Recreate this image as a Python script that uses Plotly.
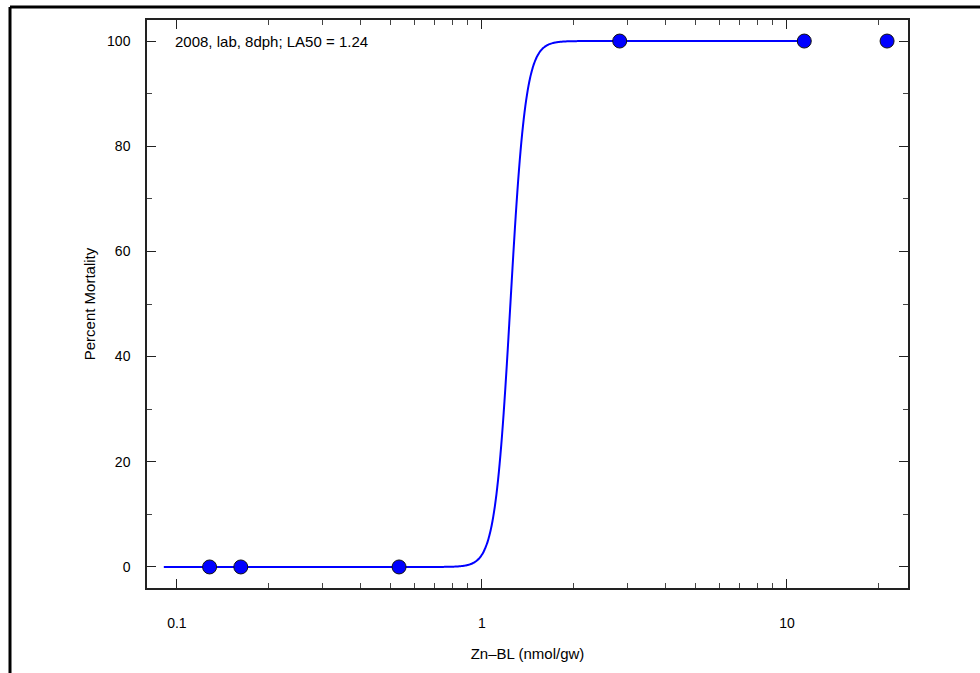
import numpy as np
import plotly.graph_objects as go

# Observed data
conc = [0.128, 0.162, 0.535, 2.83, 11.4, 21.3]
mortality = [0, 0, 0, 100, 100, 100]

# Fitted logistic model parameters (log10 scale)
LA50 = 1.24
slope_scale = 0.025
curve_min = 0.0906
curve_max = 11.4

x_major = [0.1, 1, 10]
x_major_text = ["0.1", "1", "10"]
x_minor = [0.2, 0.3, 0.4, 0.5, 0.6, 0.7, 0.8, 0.9,
           2, 3, 4, 5, 6, 7, 8, 9, 20]
y_major = [0, 20, 40, 60, 80, 100]
y_minor = [10, 30, 50, 70, 90]

title_text = "2008, lab, 8dph; LA50 = 1.24"
x_title = "Zn\u2013BL (nmol/gw)"
y_title = "Percent Mortality"

lx = np.linspace(np.log10(curve_min), np.log10(curve_max), 800)
cx = 10 ** lx
cy = 100.0 / (1.0 + np.exp(-(lx - np.log10(LA50)) / slope_scale))

font = "Liberation Sans, Arial, sans-serif"

fig = go.Figure()
fig.add_trace(go.Scatter(x=cx, y=cy, mode="lines",
                         line=dict(color="#0000FF", width=2, shape="spline"),
                         hoverinfo="skip", showlegend=False))
fig.add_trace(go.Scatter(x=conc, y=mortality, mode="markers",
                         marker=dict(color="#0000FF", size=14,
                                     line=dict(color="#111111", width=1)),
                         showlegend=False))

L, R, T, B = 147, 72, 20, 85
W, H = 980, 673
pw, ph = W - L - R, H - T - B

fig.update_layout(
    width=W, height=H,
    margin=dict(l=L, r=R, t=T, b=B),
    paper_bgcolor="white", plot_bgcolor="white",
    font=dict(family=font, size=14, color="black"),
    showlegend=False,
)
fig.update_xaxes(
    type="log", range=[-1.098, 1.397],
    tickmode="array", tickvals=x_major, ticktext=x_major_text,
    ticks="inside", ticklen=9, tickwidth=1.3, tickcolor="#222",
    ticklabelstandoff=21,
    minor=dict(tickvals=x_minor, ticks="inside", ticklen=5, tickwidth=1, tickcolor="#444", showgrid=False),
    showline=True, linecolor="#222", linewidth=1.5, mirror="allticks",
    showgrid=False, zeroline=False,
    title=dict(text=x_title, font=dict(size=15), standoff=19),
    tickfont=dict(size=14),
)
fig.update_yaxes(
    range=[-4, 104],
    tickmode="array", tickvals=y_major,
    ticks="inside", ticklen=9, tickwidth=1.3, tickcolor="#222",
    ticklabelstandoff=12,
    minor=dict(tickvals=y_minor, ticks="inside", ticklen=5, tickwidth=1, tickcolor="#444", showgrid=False),
    showline=True, linecolor="#222", linewidth=1.5, mirror="allticks",
    showgrid=False, zeroline=False,
    title=dict(text=y_title, font=dict(size=15), standoff=8),
    tickfont=dict(size=14),
)

fig.add_annotation(xref="paper", yref="paper",
                   x=(173 - L) / pw, y=1 - (41 - T) / ph,
                   text=title_text, showarrow=False,
                   xanchor="left", yanchor="middle",
                   font=dict(size=15, family=font))

# outer frame lines
x0 = (10 - L) / pw
y0 = 1 + (T - 7) / ph
fig.add_shape(type="line", xref="paper", yref="paper",
              x0=x0, x1=x0, y0=y0, y1=-0.3,
              line=dict(color="black", width=3))
fig.add_shape(type="line", xref="paper", yref="paper",
              x0=x0, x1=1.2, y0=y0, y1=y0,
              line=dict(color="black", width=3))

fig.write_html("out.html")
